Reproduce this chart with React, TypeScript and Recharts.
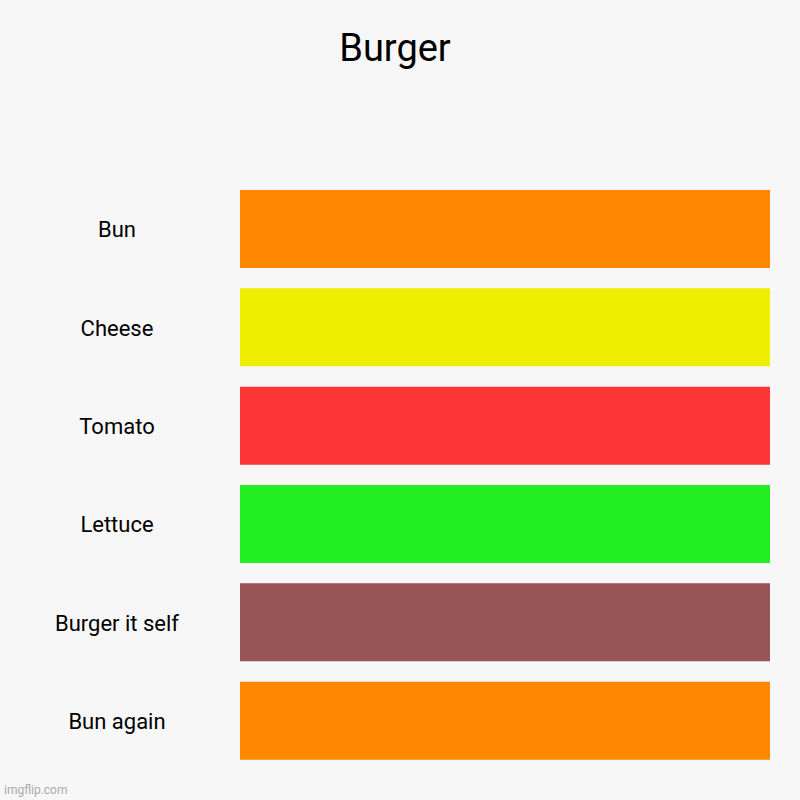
import { Bar, BarChart, Cell, XAxis, YAxis } from 'recharts'

const layers = ['Bun', 'Cheese', 'Tomato', 'Lettuce', 'Burger it self', 'Bun again']
const amounts = [1, 1, 1, 1, 1, 1]
const layerColors = ['#ff8800', '#eeee00', '#ff3636', '#22ee22', '#995555', '#ff8800']

const chartData = layers.map((name, i) => ({ name, value: amounts[i] }))

function LayerTick({ y, payload }: { y?: number; payload?: { value: string } }) {
  return (
    <text x={117} y={y} dy={8} textAnchor="middle" fontSize={22} fill="#000" fontFamily="Roboto">
      {payload?.value}
    </text>
  )
}

export default function App() {
  return (
    <div style={{ position: 'absolute', left: 0, top: 0, width: 800, height: 800, background: '#f7f7f7', fontFamily: 'Roboto' }}>
      <div
        style={{
          position: 'absolute',
          left: 0,
          width: 790,
          top: 24,
          textAlign: 'center',
          fontSize: 38,
          lineHeight: '48px',
          color: '#000',
        }}
      >
        Burger
      </div>
      <BarChart
        width={800}
        height={800}
        data={chartData}
        layout="vertical"
        margin={{ top: 180, right: 30, bottom: 30, left: 0 }}
        barSize={78}
      >
        <XAxis type="number" domain={[0, 1]} hide />
        <YAxis
          type="category"
          dataKey="name"
          width={240}
          axisLine={false}
          tickLine={false}
          tick={<LayerTick />}
        />
        <Bar dataKey="value" isAnimationActive={false}>
          {chartData.map((entry, i) => (
            <Cell key={entry.name} fill={layerColors[i]} />
          ))}
        </Bar>
      </BarChart>
      <div style={{ position: 'absolute', left: 4, top: 783, fontSize: 12, color: '#aaa' }}>imgflip.com</div>
    </div>
  )
}
